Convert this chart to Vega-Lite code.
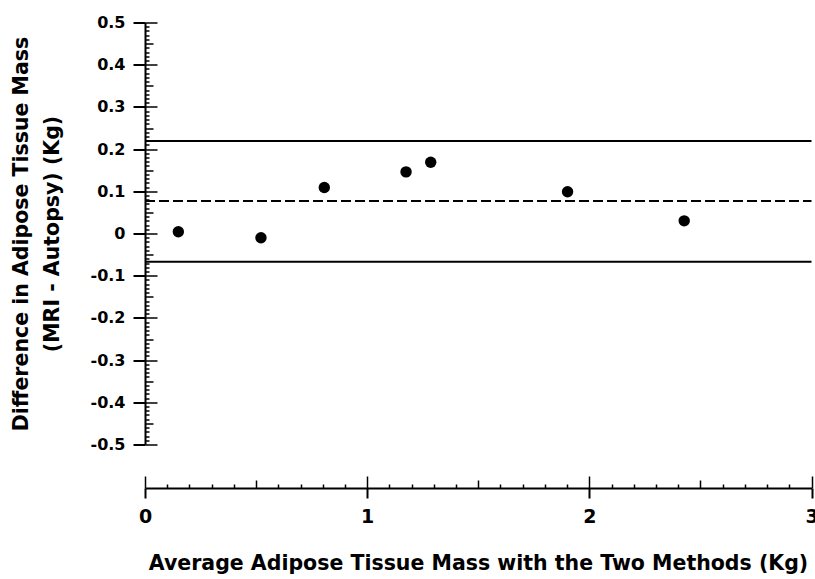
{
  "$schema": "https://vega.github.io/schema/vega-lite/v6.json",
  "width": 666.5,
  "height": 422,
  "autosize": {"type": "none"},
  "padding": {"left": 145, "top": 22.5, "right": 3.5, "bottom": 134.5},
  "background": "white",
  "config": {"view": {"stroke": null}, "font": "DejaVu Sans"},
  "datasets": {
    "points": [
      {"avg": 0.150, "diff": 0.004},
      {"avg": 0.522, "diff": -0.010},
      {"avg": 0.807, "diff": 0.109},
      {"avg": 1.175, "diff": 0.146},
      {"avg": 1.286, "diff": 0.169},
      {"avg": 1.902, "diff": 0.099},
      {"avg": 2.427, "diff": 0.030}
    ],
    "lines": [
      {"y": 0.219, "kind": "solid"},
      {"y": 0.077, "kind": "dashed"},
      {"y": -0.067, "kind": "solid"}
    ]
  },
  "resolve": {"axis": {"x": "independent", "y": "independent"}},
  "layer": [
    {
      "data": {"name": "lines"},
      "mark": {"type": "rule", "strokeWidth": 2, "color": "black"},
      "encoding": {
        "x": {
          "datum": 0,
          "type": "quantitative",
          "scale": {"domain": [0, 3], "nice": false, "zero": false},
          "axis": {
            "orient": "bottom",
            "offset": 43.5,
            "values": [0,0.1,0.2,0.3,0.4,0.5,0.6,0.7,0.8,0.9,1,1.1,1.2,1.3,1.4,1.5,1.6,1.7,1.8,1.9,2,2.1,2.2,2.3,2.4,2.5,2.6,2.7,2.8,2.9,3],
            "labels": false,
            "domain": false,
            "grid": false,
            "title": null,
            "tickColor": "black",
            "tickWidth": 1.5,
            "tickSize": {
              "condition": [
                {"test": "abs(datum.value - round(datum.value)) < 0.001", "value": -12},
                {"test": "abs(datum.value*2 - round(datum.value*2)) < 0.001", "value": -8}
              ],
              "value": -4
            }
          }
        },
        "x2": {"datum": 3},
        "y": {
          "field": "y",
          "type": "quantitative",
          "scale": {"domain": [-0.5, 0.5], "nice": false, "zero": false},
          "axis": {
            "orient": "left",
            "values": [-0.5,-0.49,-0.48,-0.47,-0.46,-0.45,-0.44,-0.43,-0.42,-0.41,-0.4,-0.39,-0.38,-0.37,-0.36,-0.35,-0.34,-0.33,-0.32,-0.31,-0.3,-0.29,-0.28,-0.27,-0.26,-0.25,-0.24,-0.23,-0.22,-0.21,-0.2,-0.19,-0.18,-0.17,-0.16,-0.15,-0.14,-0.13,-0.12,-0.11,-0.1,-0.09,-0.08,-0.07,-0.06,-0.05,-0.04,-0.03,-0.02,-0.01,0,0.01,0.02,0.03,0.04,0.05,0.06,0.07,0.08,0.09,0.1,0.11,0.12,0.13,0.14,0.15,0.16,0.17,0.18,0.19,0.2,0.21,0.22,0.23,0.24,0.25,0.26,0.27,0.28,0.29,0.3,0.31,0.32,0.33,0.34,0.35,0.36,0.37,0.38,0.39,0.4,0.41,0.42,0.43,0.44,0.45,0.46,0.47,0.48,0.49,0.5],
            "labels": false,
            "domain": false,
            "grid": false,
            "title": null,
            "tickColor": "black",
            "tickWidth": 1.5,
            "tickSize": {
              "condition": [
                {"test": "abs(datum.value*10 - round(datum.value*10)) < 0.001", "value": -12},
                {"test": "abs(datum.value*20 - round(datum.value*20)) < 0.001", "value": -8}
              ],
              "value": -4
            }
          }
        },
        "strokeDash": {
          "field": "kind",
          "type": "nominal",
          "scale": {"domain": ["solid", "dashed"], "range": [[1, 0], [10, 4]]},
          "legend": null
        }
      }
    },
    {
      "data": {"name": "points"},
      "mark": {"type": "circle", "size": 130, "opacity": 1, "color": "black"},
      "encoding": {
        "x": {
          "field": "avg",
          "type": "quantitative",
          "axis": {
            "orient": "bottom",
            "offset": 43.5,
            "values": [0, 1, 2, 3],
            "format": "d",
            "grid": false,
            "domainColor": "black",
            "domainWidth": 2,
            "tickColor": "black",
            "tickWidth": 2,
            "tickSize": 10,
            "labelFont": "DejaVu Sans",
            "labelFontWeight": "bold",
            "labelFontSize": 19,
            "labelColor": "black",
            "labelPadding": 9,
            "labelFlush": false,
            "labelOverlap": false,
            "title": "Average Adipose Tissue Mass with the Two Methods (Kg)",
            "titleFont": "DejaVu Sans",
            "titleFontWeight": "bold",
            "titleFontSize": 20.5,
            "titleColor": "black",
            "titleBaseline": "alphabetic",
            "titleY": 81,
            "titleX": 333
          }
        },
        "y": {
          "field": "diff",
          "type": "quantitative",
          "axis": {
            "orient": "left",
            "values": [-0.5,-0.4,-0.3,-0.2,-0.1,0,0.1,0.2,0.3,0.4,0.5],
            "labelExpr": "datum.value == 0 ? '0' : (datum.value < 0 ? '-' : '') + format(abs(datum.value), '.1f')",
            "grid": false,
            "domainColor": "black",
            "domainWidth": 2,
            "tickColor": "black",
            "tickWidth": 2,
            "tickSize": 12,
            "labelFont": "DejaVu Sans",
            "labelFontWeight": "bold",
            "labelFontSize": 16,
            "labelColor": "black",
            "labelPadding": 8,
            "labelFlush": false,
            "labelOverlap": false,
            "title": ["Difference in\u00a0Adipose Tissue Mass", "(MRI - Autopsy) (Kg)"],
            "titleFont": "DejaVu Sans",
            "titleFontWeight": "bold",
            "titleFontSize": 20.5,
            "titleColor": "black",
            "titleLineHeight": 31,
            "titleAngle": -90,
            "titleAlign": "center",
            "titleBaseline": "middle",
            "titleX": -124,
            "titleY": 211
          }
        }
      }
    }
  ]
}
